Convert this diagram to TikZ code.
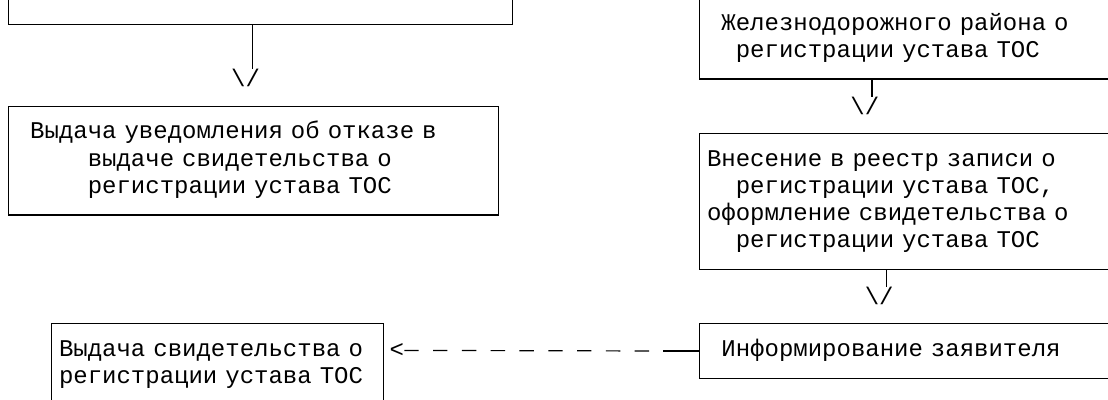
\documentclass[tikz,border=0pt]{standalone}
\usepackage{fontspec}
\setmonofont{Liberation Mono}
\usetikzlibrary{positioning}
\newlength{\cw}\setlength{\cw}{10.8pt}

\begin{document}
\begin{tikzpicture}[x=0.75pt, y=-0.75pt]
		\tikzstyle{Box} = [rectangle, draw=black, line width=0.9pt, anchor=north west, inner xsep=5.4pt, inner ysep=0pt, align=left, font=\ttfamily\fontsize{18pt}{20.4pt}\selectfont, execute at begin node=\strut, execute at end node=\strut]
		\tikzstyle{Tip} = [inner sep=0pt, font=\ttfamily\fontsize{18pt}{20.4pt}\selectfont]
		\tikzstyle{Line} = [line width=0.9pt, black]
		
		\useasboundingbox (0,0) rectangle (1108,400);
		\clip (0,0) rectangle (1108,400);
		
		\node (tl) [Box, text width=367.2pt, minimum height=61.2pt] at (8,-57.6) {};
		\node (a1) [Tip] at (245.6,78.4) {\textbackslash/};
		\draw [Line] ([xshift=5.4pt]a1.north |- tl.south) -- ([xshift=5.4pt]a1.north);
		
		\node (lm) [Box, text width=356.4pt, minimum height=81.6pt] at (8,105.6) {\hspace*{\cw}Выдача уведомления об отказе в\\ \hspace*{5\cw}выдаче свидетельства о\\ \hspace*{5\cw}регистрации устава ТОС};
		
		\node (rt) [Box, text width=313.2pt, minimum height=61.2pt] at (699.2,-3.2) {\hspace*{\cw}Железнодорожного района о\\ \hspace*{2\cw}регистрации устава ТОС};
		\node (a2) [Tip] at (864.8,105.6) {\textbackslash/};
		\draw [Line] ([xshift=5.4pt]a2.north |- rt.south) -- ([xshift=5.4pt]a2.north);
		
		\node (rm) [Box, text width=313.2pt, minimum height=102pt] at (699.2,132.8) {Внесение в реестр записи о\\ \hspace*{2\cw}регистрации устава ТОС,\\ оформление свидетельства о\\ \hspace*{2\cw}регистрации устава ТОС};
		\node (a3) [Tip] at (879.2,296) {\textbackslash/};
		\draw [Line] ([xshift=5.4pt]a3.north |- rm.south) -- ([xshift=5.4pt]a3.north);
		
		\node (rb) [Box, text width=313.2pt, minimum height=40.8pt] at (699.2,323.2) {\hspace*{\cw}Информирование заявителя};
		\node (lb) [Box, text width=238pt, minimum height=61.2pt] at (51.2,323.2) {Выдача свидетельства о\\ регистрации устава ТОС};
		
		% dashed link back to the left
		\node (lt) [Tip] at (396.8,350.4) {<};
		\draw [Line] (rb.west) -- ([xshift=-27pt]rb.west) coordinate (d1);
		\draw [Line, dash pattern=on 10.8pt off 10.8pt] (lt.east) -- (d1);
\end{tikzpicture}
\end{document}
